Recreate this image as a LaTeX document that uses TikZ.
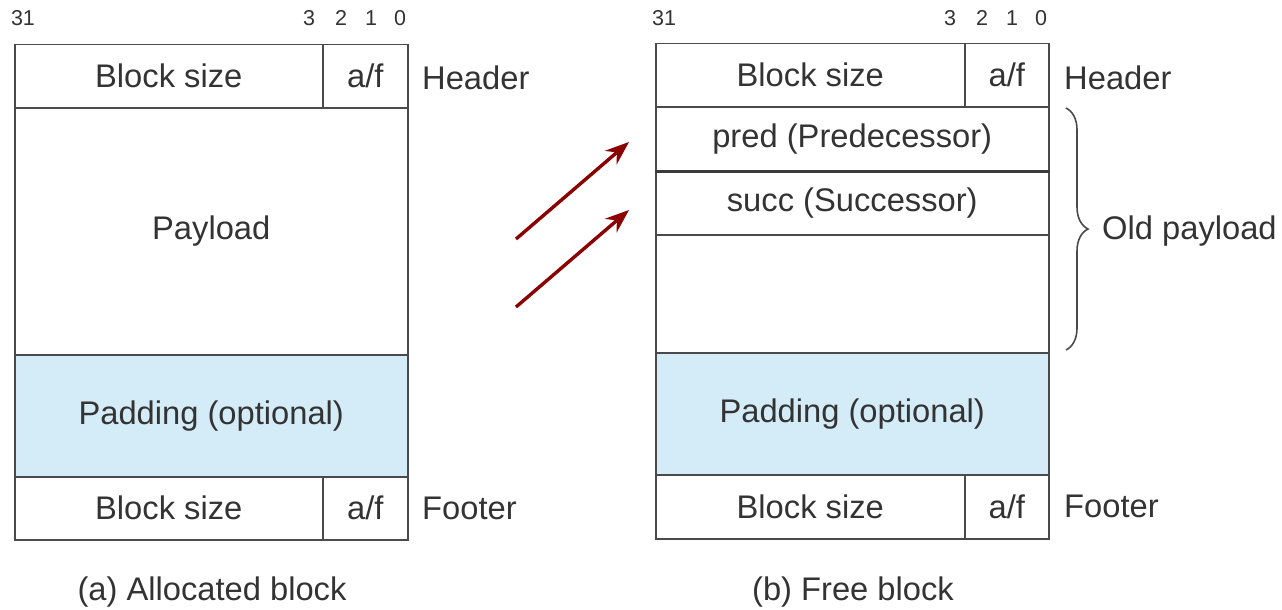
\documentclass[tikz,border=0pt]{standalone}
\usepackage{fontspec}
\setmainfont{Liberation Sans}
\usetikzlibrary{arrows.meta,decorations.pathreplacing}
\definecolor{linec}{HTML}{4A4A4A}
\definecolor{txt}{HTML}{333333}
\definecolor{padblue}{HTML}{D3ECF8}
\definecolor{arrowred}{HTML}{8B0000}
\tikzset{
  cell/.style={draw=linec, line width=1.5pt, rectangle, inner sep=0pt,
    anchor=north west, text=txt, font=\fontsize{32.7}{38}\selectfont},
  padcell/.style={cell, fill=padblue},
  lbl/.style={text=txt, font=\fontsize{32.7}{38}\selectfont, inner sep=0pt},
  bitno/.style={text=txt, font=\fontsize{21.5}{25}\selectfont, inner sep=0pt},
  ptr/.style={draw=arrowred, line width=3.4pt,
    -{Stealth[length=24pt,width=18pt,inset=8pt]}},
}
\begin{document}
\begin{tikzpicture}[x=1pt,y=-1pt]
\useasboundingbox (0,0) rectangle (1282,610);

% (a) allocated block
\node[cell, minimum width=308pt, minimum height=63pt] (lhsize) at (14,44) {Block size};
\node[cell, minimum width=85pt, minimum height=63pt] (lhaf) at (322,44) {a/f};
\node[cell, minimum width=393pt, minimum height=247pt] (lpay) at (14,107) {Payload};
\node[padcell, minimum width=393pt, minimum height=122pt] (lpad) at (14,354) {Padding (optional)};
\node[cell, minimum width=308pt, minimum height=63pt] (lfsize) at (14,476) {Block size};
\node[cell, minimum width=85pt, minimum height=63pt] (lfaf) at (322,476) {a/f};

\node[bitno] (lb31) at (23,18) {31};
\node[bitno] (lb3) at (309,18) {3};
\node[bitno] (lb2) at (341,18) {2};
\node[bitno] (lb1) at (371,18) {1};
\node[bitno] (lb0) at (400,18) {0};

\node[lbl, anchor=west] (lhead) at (422,78) {Header};
\node[lbl, anchor=west] (lfoot) at (422,508) {Footer};
\node[lbl] (lcap) at (212,592) {(a) Allocated block};

% (b) free block
\node[cell, minimum width=309pt, minimum height=63pt] (rhsize) at (655,43) {Block size};
\node[cell, minimum width=84pt, minimum height=63pt] (rhaf) at (964,43) {a/f};
\node[cell, minimum width=393pt, minimum height=64pt] (rpred) at (655,106) {pred (Predecessor)};
\node[cell, minimum width=393pt, minimum height=64pt] (rsucc) at (655,170) {succ (Successor)};
\node[cell, minimum width=393pt, minimum height=118pt] (rfree) at (655,234) {};
\node[padcell, minimum width=393pt, minimum height=122pt] (rpad) at (655,352) {Padding (optional)};
\node[cell, minimum width=309pt, minimum height=64pt] (rfsize) at (655,474) {Block size};
\node[cell, minimum width=84pt, minimum height=64pt] (rfaf) at (964,474) {a/f};
\draw[draw=linec!80!black, line width=2.6pt] (rpred.south west) -- (rpred.south east);

\node[bitno] (rb31) at (664,18) {31};
\node[bitno] (rb3) at (950,18) {3};
\node[bitno] (rb2) at (982,18) {2};
\node[bitno] (rb1) at (1012,18) {1};
\node[bitno] (rb0) at (1041,18) {0};

\node[lbl, anchor=west] (rhead) at (1064,78) {Header};
\node[lbl, anchor=west] (rfoot) at (1064,506) {Footer};
\node[lbl] (rcap) at (853,592) {(b) Free block};

% brace over the old payload area
\coordinate (bratop) at (1066,108);
\coordinate (brabot) at (1066,350);
\draw[draw=linec, line width=1.6pt, decorate,
  decoration={brace, amplitude=22pt, aspect=0.5}] (bratop) -- (brabot);
\node[lbl, anchor=west] (oldpay) at (1102,231) {Old payload};

% pointers into the free block
\coordinate (p1s) at (516,239);
\coordinate (p1e) at (629,142);
\coordinate (p2s) at (516,307);
\coordinate (p2e) at (629,210);
\draw[ptr] (p1s) -- (p1e);
\draw[ptr] (p2s) -- (p2e);
\end{tikzpicture}
\end{document}
